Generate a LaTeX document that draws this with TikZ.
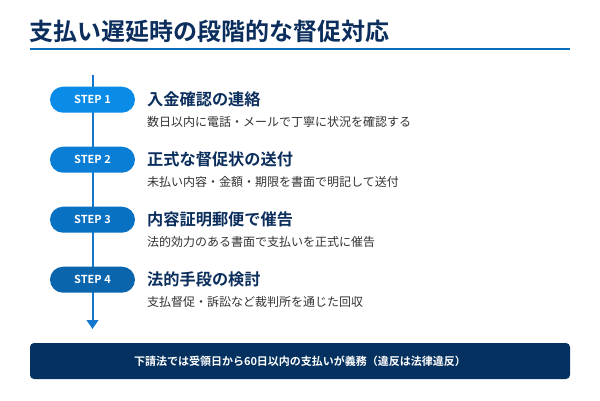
\documentclass[tikz,border=0pt]{standalone}
\usepackage{fontspec}
\setmainfont{Noto Sans CJK JP}[BoldFont={Noto Sans CJK JP Bold}]
\usetikzlibrary{arrows.meta}
\definecolor{navy}{HTML}{0B2E5C}
\definecolor{rulec}{HTML}{0A6EBD}
\definecolor{linec}{HTML}{1277CC}
\definecolor{sa}{HTML}{0B8BE8}
\definecolor{sb}{HTML}{0A7DD5}
\definecolor{sc}{HTML}{0971C2}
\definecolor{sd}{HTML}{0A65AD}
\definecolor{desc}{HTML}{333333}
\definecolor{boxc}{HTML}{04315F}
\begin{document}
\begin{tikzpicture}[x=1pt,y=-1pt,
  pill/.style={draw=none,rounded corners=13pt,minimum width=85pt,minimum height=26pt,
    inner sep=0pt,text=white,font=\bfseries\fontsize{11}{13}\selectfont},
  head/.style={anchor=west,inner sep=0pt,text=navy,font=\bfseries\fontsize{16.2}{18}\selectfont},
  sub/.style={anchor=west,inner sep=0pt,text=desc,font=\fontsize{12}{14}\selectfont},
  flow/.style={draw=linec,line width=2pt,-{Triangle[width=11.6pt,length=9pt]}}]
\useasboundingbox (0,0) rectangle (600,400);
\fill[white] (0,0) rectangle (600,400);
% title
\node[anchor=west,inner sep=0pt,text=navy,font=\bfseries\fontsize{24}{27}\selectfont] (title) at (29,31.5) {支払い遅延時の段階的な督促対応};
\coordinate (rl) at (30,49);
\coordinate (rr) at (570,49);
\draw[rulec,line width=2.5pt] (rl) -- (rr);
% flow line
\coordinate (top) at (92.5,75);
\coordinate (bot) at (92.5,329);
\draw[flow] (top) -- (bot);
% steps
\node[pill,fill=sa] (s1) at (92.5,99.7) {STEP 1};
\node[pill,fill=sb] (s2) at (92.5,159.7) {STEP 2};
\node[pill,fill=sc] (s3) at (92.5,219.7) {STEP 3};
\node[pill,fill=sd] (s4) at (92.5,279.7) {STEP 4};
\node[head] (h1) at (147,99.5) {入金確認の連絡};
\node[sub] (d1) at (147,121.5) {数日以内に電話・メールで丁寧に状況を確認する};
\node[head] (h2) at (147,159.5) {正式な督促状の送付};
\node[sub] (d2) at (147,181.5) {未払い内容・金額・期限を書面で明記して送付};
\node[head] (h3) at (147,219.5) {内容証明郵便で催告};
\node[sub] (d3) at (147,241.5) {法的効力のある書面で支払いを正式に催告};
\node[head] (h4) at (147,279.5) {法的手段の検討};
\node[sub] (d4) at (147,301.5) {支払督促・訴訟など裁判所を通じた回収};
% bottom box
\node[fill=boxc,rounded corners=4pt,minimum width=540pt,minimum height=36pt,inner sep=0pt,
  text=white,font=\bfseries\fontsize{11}{13}\selectfont] (note) at (300,361) {下請法では受領日から60日以内の支払いが義務（違反は法律違反）};
\end{tikzpicture}
\end{document}
